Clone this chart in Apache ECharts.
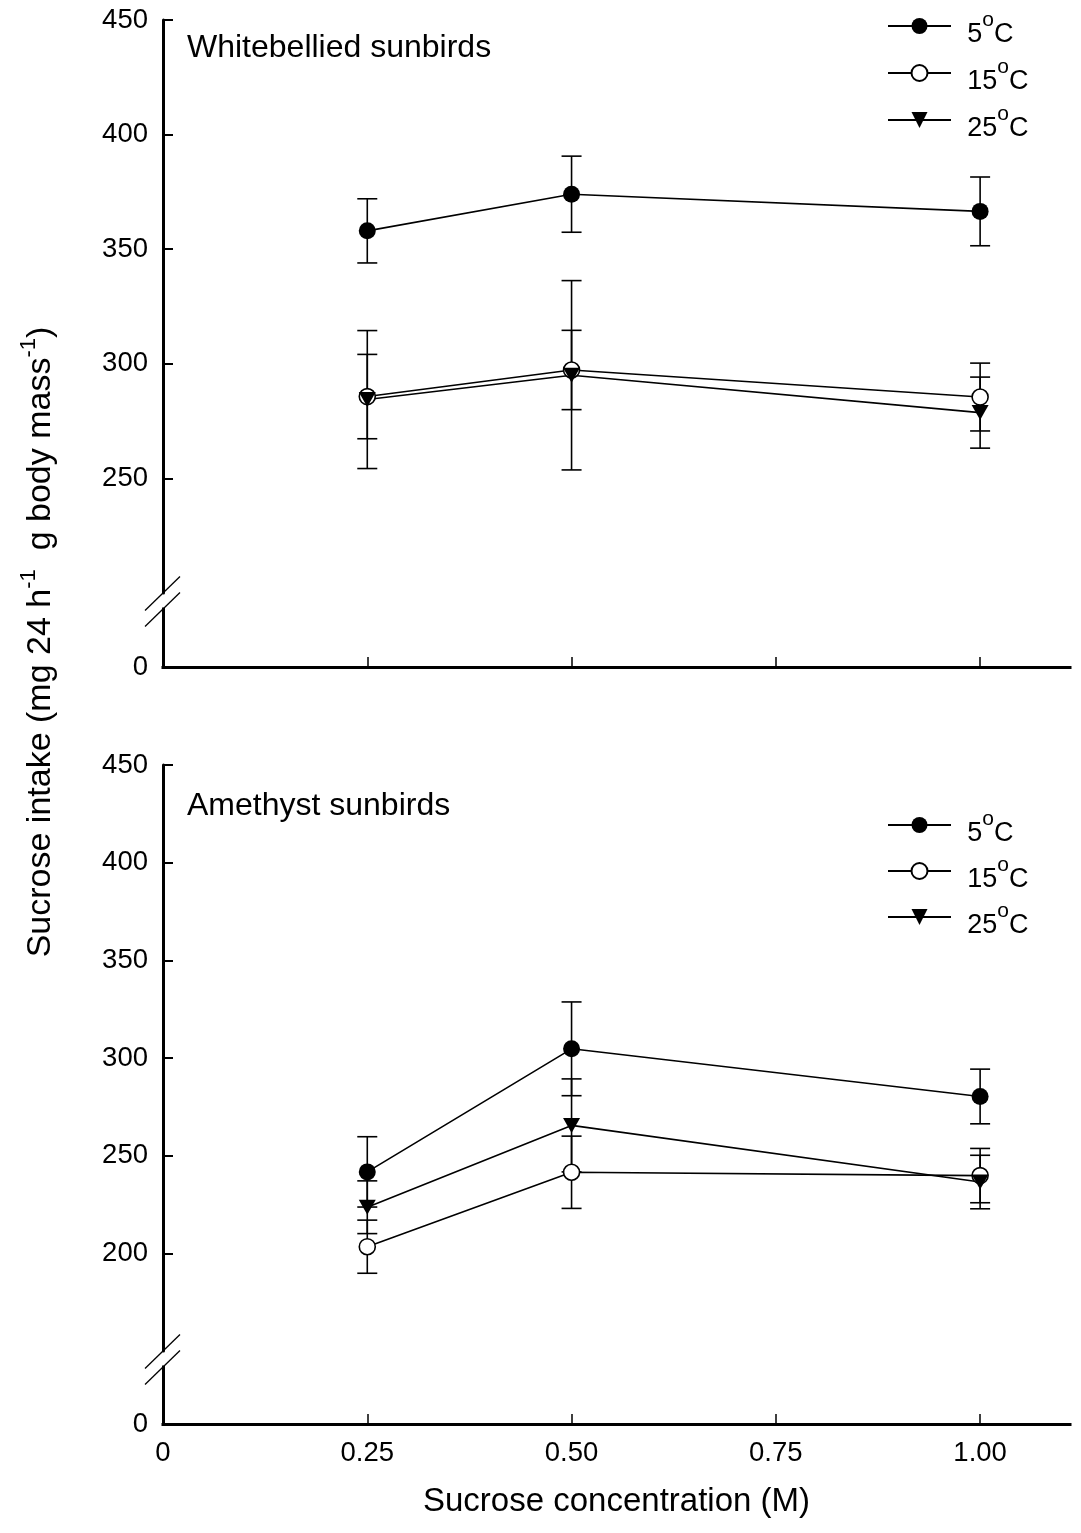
<!DOCTYPE html>
<html><head><meta charset="utf-8">
<script src="https://cdn.jsdelivr.net/npm/echarts@6/dist/echarts.min.js"></script>
<style>html,body{margin:0;padding:0;background:#fff}#c{width:1081px;height:1533px}</style>
</head><body><div id="c"></div>
<script>
// ---- data ----
const conc = [0.25, 0.5, 1.0];
const seriesNames = ['5°C', '15°C', '25°C'];
const xTickValues = [0, 0.25, 0.5, 0.75, 1.0];
const topYTicks = [250, 300, 350, 400, 450];
const botYTicks = [200, 250, 300, 350, 400, 450];

// Whitebellied sunbirds (mean, SE)
const wb5 = [358, 374, 366.5];
const wb5se = [14, 16.6, 15];
const wb15 = [285.7, 297.3, 285.5];
const wb15se = [18.4, 17.3, 14.8];
const wb25 = [284.4, 295, 278.7];
const wb25se = [30.1, 41.3, 15.5];

// Amethyst sunbirds (mean, SE)
const am5 = [241.7, 304.7, 280.3];
const am5se = [18, 24, 14];
const am15 = [203.4, 241.5, 239.8];
const am15se = [13.6, 18.5, 13.9];
const am25 = [223.6, 265.5, 236.5];
const am25se = [13.5, 23.8, 13.7];

// ---- layout / style ----
const FF = 'Liberation Sans, Arial, Helvetica, sans-serif';
const L = 163, R = 11;
const grids = [
  {left: L, right: R, top: 20, height: 573},
  {left: L, right: R, top: 609, height: 58},
  {left: L, right: R, top: 765, height: 586},
  {left: L, right: R, top: 1367, height: 57}
];
const XMAX = 1.11;

function xAx(gi, visible, labels) {
  return {
    type: 'value', gridIndex: gi, min: 0, max: XMAX, show: visible,
    axisLine: {show: true, onZero: false, lineStyle: {color: '#000', width: 3, cap: 'square'}},
    axisTick: {show: true, inside: true, length: 10, customValues: xTickValues.slice(1),
      lineStyle: {color: '#000', width: 1.5}},
    axisLabel: {show: labels, customValues: xTickValues, fontSize: 27.5, color: '#000', margin: 15,
      fontFamily: FF, formatter: v => v === 0 ? '0' : v.toFixed(2)},
    splitLine: {show: false},
    name: labels ? 'Sucrose concentration (M)' : '',
    nameLocation: 'middle', nameGap: 61,
    nameTextStyle: {fontSize: 33, color: '#000', fontFamily: FF}
  };
}
function yMain(gi, min, ticks) {
  return {
    type: 'value', gridIndex: gi, min: min, max: 450,
    axisLine: {show: true, onZero: false, lineStyle: {color: '#000', width: 3}},
    axisTick: {show: true, inside: true, length: 10, customValues: ticks, lineStyle: {color: '#000', width: 2}},
    axisLabel: {customValues: ticks, fontSize: 27.5, color: '#000', margin: 15, fontFamily: FF},
    splitLine: {show: false}
  };
}
function yLow(gi) {
  return {
    type: 'value', gridIndex: gi, min: 0, max: 10,
    axisLine: {show: true, onZero: false, lineStyle: {color: '#000', width: 3, cap: 'square'}},
    axisTick: {show: false},
    axisLabel: {customValues: [0], fontSize: 27.5, color: '#000', margin: 15, fontFamily: FF},
    splitLine: {show: false}
  };
}

function lineSeries(name, gi, vals, kind) {
  const s = {
    type: 'line', name: name, xAxisIndex: gi, yAxisIndex: gi,
    data: conc.map((c, i) => [c, vals[i]]),
    lineStyle: {color: '#000', width: 1.6}, z: 3, silent: true
  };
  if (kind === 'filled') { s.symbol = 'circle'; s.symbolSize = 17; s.itemStyle = {color: '#000'}; }
  if (kind === 'open') { s.symbol = 'circle'; s.symbolSize = 16; s.itemStyle = {color: '#fff', borderColor: '#000', borderWidth: 1.6}; }
  if (kind === 'tri') { s.symbol = 'triangle'; s.symbolSize = [17, 15]; s.symbolRotate = 180; s.itemStyle = {color: '#000'}; }
  return s;
}
function errSeries(gi, vals, ses) {
  return {
    type: 'custom', xAxisIndex: gi, yAxisIndex: gi, silent: true, z: 2,
    data: conc.map((c, i) => [c, vals[i] - ses[i], vals[i] + ses[i]]),
    renderItem: function (params, api) {
      const x = api.value(0);
      const lo = api.coord([x, api.value(1)]);
      const hi = api.coord([x, api.value(2)]);
      const w = 10, st = {stroke: '#000', lineWidth: 1.6};
      return {type: 'group', children: [
        {type: 'line', shape: {x1: lo[0], y1: lo[1], x2: hi[0], y2: hi[1]}, style: st},
        {type: 'line', shape: {x1: lo[0] - w, y1: lo[1], x2: lo[0] + w, y2: lo[1]}, style: st},
        {type: 'line', shape: {x1: hi[0] - w, y1: hi[1], x2: hi[0] + w, y2: hi[1]}, style: st}
      ]};
    }
  };
}

// one legend entry per row so each row sits where the reference has it
const LEG_H = 44, LEG_OFF = 14;
function legendItem(name, iconCenterY) {
  return {
    orient: 'vertical', left: 887, top: iconCenterY - LEG_OFF, padding: 0,
    itemWidth: 63, itemHeight: 20, selectedMode: false, data: [name],
    formatter: n => '{p| }{n|' + n.replace('°C', '') + '}{s|o}{n|C}',
    textStyle: {
      padding: [0, 0, 0, 9],
      rich: {
        p: {fontSize: 8, lineHeight: LEG_H, color: '#000', fontFamily: FF},
        n: {fontSize: 27, lineHeight: 30, verticalAlign: 'bottom', color: '#000', fontFamily: FF},
        s: {fontSize: 21, verticalAlign: 'top', padding: [6, 0, 0, 0], color: '#000', fontFamily: FF}
      }
    }
  };
}

const slash = (yc) => ({type: 'line', silent: true, z: 100,
  shape: {x1: 145, y1: yc + 17.5, x2: 180, y2: yc - 16.5}, style: {stroke: '#000', lineWidth: 1.3}});

const option = {
  animation: false,
  backgroundColor: '#fff',
  grid: grids,
  xAxis: [xAx(0, false, false), xAx(1, true, false), xAx(2, false, false), xAx(3, true, true)],
  yAxis: [yMain(0, 200, topYTicks), yLow(1), yMain(2, 150, botYTicks), yLow(3)],
  legend: [
    legendItem(seriesNames[0], 24), legendItem(seriesNames[1], 71), legendItem(seriesNames[2], 118),
    legendItem(seriesNames[0], 823), legendItem(seriesNames[1], 869), legendItem(seriesNames[2], 915)
  ],
  series: [
    errSeries(0, wb5, wb5se), errSeries(0, wb15, wb15se), errSeries(0, wb25, wb25se),
    lineSeries(seriesNames[0], 0, wb5, 'filled'),
    lineSeries(seriesNames[1], 0, wb15, 'open'),
    lineSeries(seriesNames[2], 0, wb25, 'tri'),
    errSeries(2, am5, am5se), errSeries(2, am15, am15se), errSeries(2, am25, am25se),
    lineSeries(seriesNames[0], 2, am5, 'filled'),
    lineSeries(seriesNames[1], 2, am15, 'open'),
    lineSeries(seriesNames[2], 2, am25, 'tri')
  ],
  graphic: [
    {type: 'text', x: 187, y: 48, silent: true,
      style: {text: 'Whitebellied sunbirds', fontSize: 32, fontFamily: FF, fill: '#000', align: 'left', verticalAlign: 'middle'}},
    {type: 'text', x: 187, y: 806, silent: true,
      style: {text: 'Amethyst sunbirds', fontSize: 32, fontFamily: FF, fill: '#000', align: 'left', verticalAlign: 'middle'}},
    {type: 'text', x: 41, y: 642, rotation: Math.PI / 2, silent: true,
      style: {
        text: '{n|Sucrose intake (mg 24 h}{s|-1}{n|  g body mass}{s|-1}{n|)}',
        align: 'center', verticalAlign: 'middle', fill: '#000',
        rich: {
          n: {fontSize: 34, lineHeight: 46, fontFamily: FF, fill: '#000'},
          s: {fontSize: 22, lineHeight: 18, verticalAlign: 'top', fontFamily: FF, fill: '#000'}
        }
      }},
    slash(593), slash(609), slash(1351), slash(1367)
  ]
};

const chart = echarts.init(document.getElementById('c'), null, {renderer: 'canvas'});
chart.setOption(option);
</script>
</body></html>
